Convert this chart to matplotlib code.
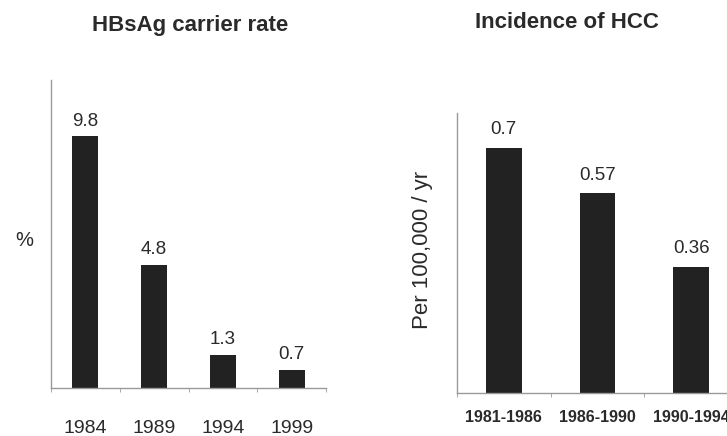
import matplotlib
matplotlib.use("Agg")
import matplotlib.pyplot as plt

plt.rcParams["font.family"] = ["Liberation Sans", "DejaVu Sans"]

# --- data ---
carrier_years = ["1984", "1989", "1994", "1999"]
carrier_rate = [9.8, 4.8, 1.3, 0.7]

hcc_periods = ["1981-1986", "1986-1990", "1990-1994"]
hcc_incidence = [0.7, 0.57, 0.36]

BAR = "#222222"
AXIS = "#9a9a9a"
TEXT = "#2a2a2a"
W, H = 727, 436


def style_axes(ax, n):
    for side in ("top", "right"):
        ax.spines[side].set_visible(False)
    for side in ("left", "bottom"):
        ax.spines[side].set_color(AXIS)
        ax.spines[side].set_linewidth(1.0)
    ax.set_xlim(-0.5, n - 0.5)
    ax.set_yticks([])
    ax.set_xticks(range(n))
    ax.set_xticks([i - 0.5 for i in range(n + 1)], minor=True)
    ax.tick_params(axis="x", which="major", length=0)
    ax.tick_params(axis="x", which="minor", length=3, color=AXIS, direction="out")


def label_bars(ax, bars, values, fmt, offset):
    for b, v in zip(bars, values):
        ax.annotate(fmt(v), (b.get_x() + b.get_width() / 2, b.get_height()),
                    xytext=(0, offset), textcoords="offset points",
                    ha="center", va="bottom", fontsize=13.5, color=TEXT)


fig = plt.figure(figsize=(W / 100, H / 100), dpi=100)
fig.patch.set_facecolor("white")

# --- left panel: HBsAg carrier rate ---
ax1 = fig.add_axes([51 / W, 48 / H, 275 / W, 308 / H])
bars1 = ax1.bar(range(len(carrier_rate)), carrier_rate, width=0.38, color=BAR)
style_axes(ax1, len(carrier_rate))
ax1.set_ylim(0, 12)
ax1.set_xticklabels(carrier_years, fontsize=14, color=TEXT)
ax1.tick_params(axis="x", which="major", pad=23)
label_bars(ax1, bars1, carrier_rate, lambda v: f"{v:g}", 5)
ax1.set_ylabel("%", rotation=0, fontsize=14.5, color=TEXT, va="center", ha="center")
ax1.yaxis.set_label_coords(-0.098, 0.48)
fig.text(190 / W, 1 - 25 / H, "HBsAg carrier rate", ha="center", va="center",
         fontsize=16, fontweight="bold", color=TEXT)

# --- right panel: incidence of HCC (clipped at the right edge) ---
ax2 = fig.add_axes([457 / W, 43 / H, 281 / W, 280 / H])
bars2 = ax2.bar(range(len(hcc_incidence)), hcc_incidence, width=0.38, color=BAR)
style_axes(ax2, len(hcc_incidence))
ax2.set_ylim(0, 0.8)
ax2.set_xticklabels(hcc_periods, fontsize=11.5, fontweight="bold", color=TEXT)
ax2.tick_params(axis="x", which="major", pad=12)
label_bars(ax2, bars2, hcc_incidence, lambda v: f"{v:g}", 7)
ax2.set_ylabel("Per 100,000 / yr", fontsize=16, color=TEXT, va="center", ha="center")
ax2.yaxis.set_label_coords(-0.121, 0.51)
fig.text(567 / W, 1 - 23 / H, "Incidence of HCC", ha="center", va="center",
         fontsize=16, fontweight="bold", color=TEXT)

fig.savefig("out.png", dpi=100, facecolor="white")
